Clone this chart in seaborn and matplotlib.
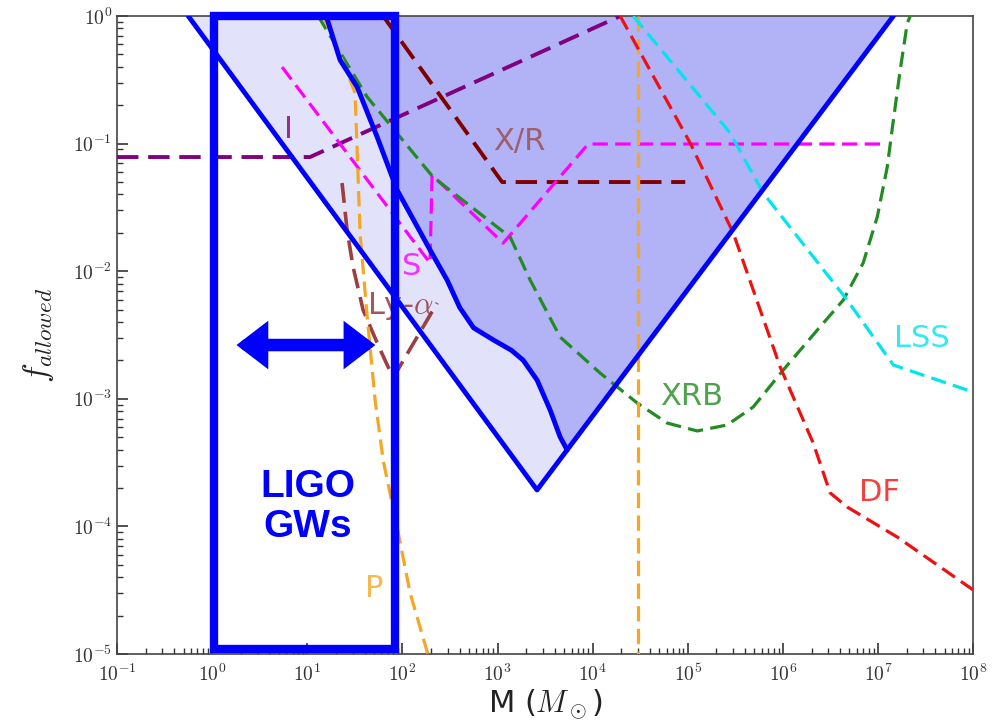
import matplotlib
matplotlib.use('Agg')
import matplotlib.pyplot as plt
from matplotlib.patches import Rectangle
from matplotlib.ticker import LogLocator, NullFormatter
import seaborn as sns

# PBH mass (solar masses) vs allowed dark-matter fraction

# blue allowed regions
outer_mass = [0.56, 2600, 1.45e7, 0.56]
outer_frac = [1.0, 1.93e-4, 1.0, 1.0]
inner_mass = [15.8, 22.1, 33.4, 54.2, 87.9, 195, 295, 400, 560, 900, 1400, 1858,
              2606, 3573, 4550, 5395]
inner_frac = [1.0, 0.452, 0.278, 0.113, 0.0433, 0.0147, 0.00853, 0.00520,
              0.00360, 0.00290, 0.00240, 0.00201, 0.00140, 0.000817, 0.000502,
              0.000397]
right_mass = [5395, 1.45e7]
right_frac = [0.000397, 1.0]

# constraint curves
i_mass = [0.1, 10.7, 19500]
i_frac = [0.0785, 0.0785, 1.0]

xr_mass = [62.7, 1117, 94000]
xr_frac = [1.0, 0.050, 0.050]

s_mass = [5.43, 195, 205, 1146, 8970, 1.05e7]
s_frac = [0.398, 0.0116, 0.0568, 0.0166, 0.0993, 0.0993]

lya_mass = [23.2, 26.2, 30.3, 38.6, 55.5, 79.8, 232]
lya_frac = [0.0491, 0.0210, 0.0108, 0.00497, 0.00264, 0.00146, 0.00564]

xrb_mass = [13.0, 42.6, 210, 1358, 2203, 4550, 12000, 29400, 60700, 125600,
            259400, 487300, 1.007e6, 2.30e6, 4.31e6, 6.98e6, 9.81e6, 1.25e7,
            1.45e7, 1.71e7, 2.03e7, 2.18e7]
xrb_frac = [1.0, 0.232, 0.0547, 0.0185, 0.00853, 0.00305, 0.00159, 0.000927,
            0.000646, 0.000560, 0.000624, 0.000863, 0.00168, 0.00346, 0.00594,
            0.0116, 0.0266, 0.0656, 0.153, 0.377, 0.881, 1.0]

p_mass = [14.7, 22.1, 31.8, 35.9, 42.6, 51.6, 62.7, 87.9, 120.5, 185]
p_frac = [1.0, 0.494, 0.249, 0.0199, 0.00438, 0.00098, 0.000331, 9.89e-5, 3.01e-5, 1e-5]

pv_mass = [30000, 30000]
pv_frac = [1.0, 1e-5]

df_mass = [19450, 106000, 300000, 938000, 2.08e6, 3.14e6, 4.74e6, 1.59e7, 1e8]
df_frac = [1.0, 0.101, 0.0200, 0.00177, 0.000451, 0.000183, 0.000142, 8.26e-5, 3.18e-5]

lss_mass = [26700, 279000, 621000, 4.74e6, 1.45e7, 1e8]
lss_frac = [1.0, 0.121, 0.041, 0.00594, 0.00184, 0.00113]

# LIGO annotation
ligo_box_mass = [1.05, 83.7]
ligo_box_frac = [1.1e-5, 1.0]
arrow_mass = [1.8, 52]
arrow_frac = 2.64e-3

x_ticks = [1e-1, 1e0, 1e1, 1e2, 1e3, 1e4, 1e5, 1e6, 1e7, 1e8]
x_tick_labels = [r'$10^{-1}$', r'$10^{0}$', r'$10^{1}$', r'$10^{2}$', r'$10^{3}$',
                 r'$10^{4}$', r'$10^{5}$', r'$10^{6}$', r'$10^{7}$', r'$10^{8}$']
y_ticks = [1e-5, 1e-4, 1e-3, 1e-2, 1e-1, 1e0]
y_tick_labels = [r'$10^{-5}$', r'$10^{-4}$', r'$10^{-3}$', r'$10^{-2}$',
                 r'$10^{-1}$', r'$10^{0}$']

# curve labels: text, mass, fraction, colour
curve_labels = [
    ('I', 6.3, 0.128, '#800080'),
    ('X/R', 1690, 0.103, '#9a4a4a'),
    ('S', 124, 0.0108, '#ff00ff'),
    (r'Ly-$\alpha$', 94.6, 5.3e-3, '#8b3030'),
    ('XRB', 1.1e5, 1.05e-3, '#228b22'),
    ('DF', 1.03e7, 1.83e-4, '#ee1111'),
    ('LSS', 2.9e7, 2.99e-3, '#00e5ee'),
    ('P', 50.4, 3.29e-5, '#f5a623'),
]


def dashed(ax, mass, frac, color, lw=2.3, dash=(4.8, 2.3)):
    sns.lineplot(x=mass, y=frac, ax=ax, color=color, lw=lw, linestyle=(0, dash),
                 sort=False, estimator=None, zorder=3)


def main():
    sns.set_theme(style='ticks')
    plt.rcParams['font.family'] = ['DejaVu Sans']
    plt.rcParams['mathtext.fontset'] = 'cm'

    fig = plt.figure(figsize=(9.92, 7.28), dpi=100)
    ax = fig.add_axes([0.118, 0.1016, 0.863, 0.8764])
    ax.set_xscale('log')
    ax.set_yscale('log')

    # shaded allowed regions
    ax.fill(outer_mass, outer_frac, color='#e2e2fb', lw=0, zorder=1)
    ax.fill(inner_mass + right_mass[1:], inner_frac + right_frac[1:],
            color='#b2b2f6', lw=0, zorder=1)

    dashed(ax, i_mass, i_frac, '#800080', lw=2.8, dash=(5.5, 2.5))
    dashed(ax, xr_mass, xr_frac, '#800000', lw=2.8, dash=(5.5, 2.5))
    dashed(ax, s_mass, s_frac, '#ff00ff')
    dashed(ax, lya_mass, lya_frac, '#9a4040', lw=2.6, dash=(5.5, 2.5))
    dashed(ax, xrb_mass, xrb_frac, '#228b22')
    dashed(ax, p_mass, p_frac, '#f5a623')
    dashed(ax, pv_mass, pv_frac, '#f5a623')
    dashed(ax, df_mass, df_frac, '#ee1111')
    dashed(ax, lss_mass, lss_frac, '#00e5ee')

    # blue boundaries
    sns.lineplot(x=outer_mass[:3], y=outer_frac[:3], ax=ax, color='blue', lw=3.5,
                 sort=False, estimator=None, zorder=4)
    sns.lineplot(x=inner_mass, y=inner_frac, ax=ax, color='blue', lw=3.5,
                 sort=False, estimator=None, zorder=4)

    for text, m, f, c in curve_labels:
        ax.text(m, f, text, color=c, fontsize=22, ha='center', va='center',
                alpha=0.8, zorder=5)

    # LIGO box, arrow and label
    ax.add_patch(Rectangle((ligo_box_mass[0], ligo_box_frac[0]),
                           ligo_box_mass[1] - ligo_box_mass[0],
                           ligo_box_frac[1] - ligo_box_frac[0],
                           fill=False, edgecolor='blue', lw=6, clip_on=False, zorder=6))
    ax.annotate('', xy=(arrow_mass[1], arrow_frac), xytext=(arrow_mass[0], arrow_frac),
                arrowprops=dict(arrowstyle='<|-|>,head_length=0.55,head_width=0.42',
                                color='blue', lw=9, mutation_scale=20,
                                shrinkA=0, shrinkB=0, joinstyle='miter'), zorder=6)
    ax.text(10.2, 1.42e-4, 'LIGO\nGWs', color='blue', fontsize=28, fontweight='bold',
            family='Liberation Sans', ha='center', va='center', linespacing=1.15, zorder=6)

    ax.set_xlim(1e-1, 1e8)
    ax.set_ylim(1e-5, 1e0)
    ax.set_xticks(x_ticks, x_tick_labels)
    ax.set_yticks(y_ticks, y_tick_labels)
    ax.xaxis.set_minor_locator(LogLocator(base=10, subs=range(2, 10), numticks=100))
    ax.yaxis.set_minor_locator(LogLocator(base=10, subs=range(2, 10), numticks=100))
    ax.xaxis.set_minor_formatter(NullFormatter())
    ax.yaxis.set_minor_formatter(NullFormatter())
    ax.tick_params(which='both', direction='in', colors='#333333', labelsize=14,
                   top=False, right=False)
    ax.tick_params(axis='x', which='major', pad=7)
    ax.tick_params(which='major', length=8, width=1.2)
    ax.tick_params(which='minor', length=4, width=1.0)
    for spine in ax.spines.values():
        spine.set_color('#444444')
        spine.set_linewidth(1.2)

    ax.set_xlabel(r'M ($M_\odot$)', fontsize=22, color='#222222', labelpad=2)
    ax.set_ylabel(r'$f_{allowed}$', fontsize=24, color='#222222', labelpad=12)

    fig.savefig('out.png', dpi=100)


if __name__ == "__main__":
    main()
